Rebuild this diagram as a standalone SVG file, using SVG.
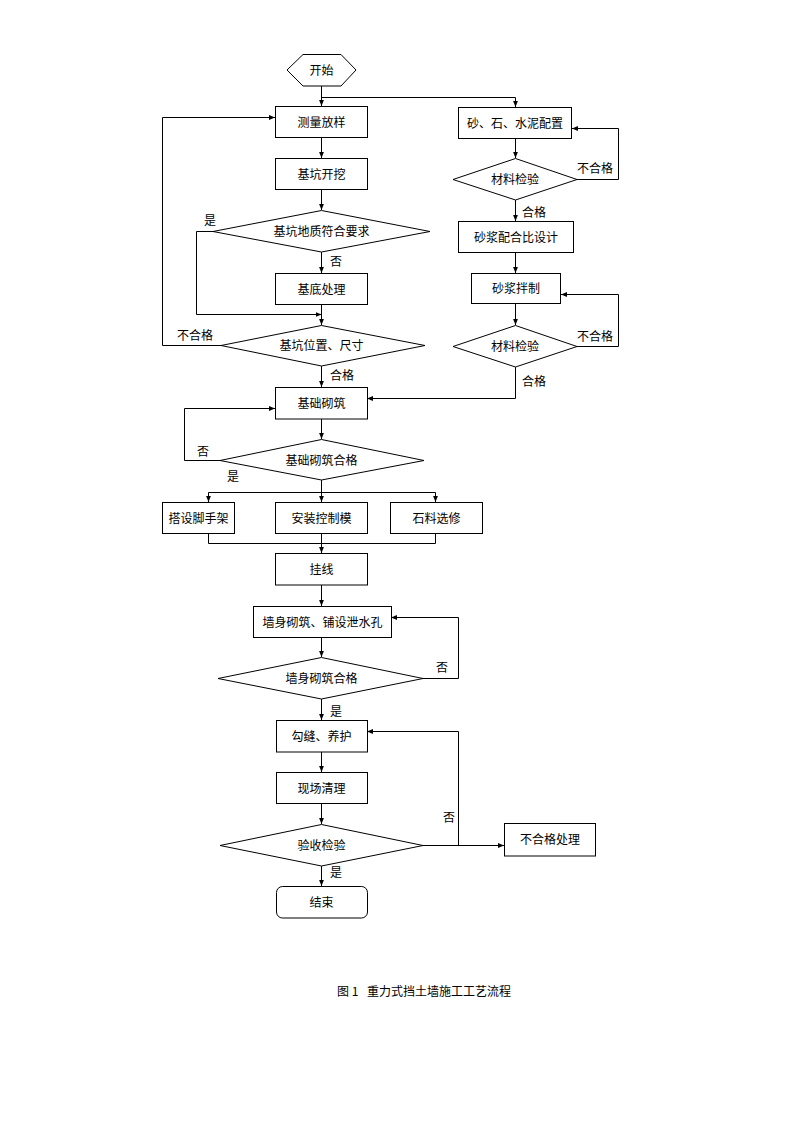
<svg xmlns="http://www.w3.org/2000/svg" width="794" height="1123" viewBox="0 0 794 1123">
<style>
.n{fill:#fff;stroke:#000;stroke-width:1}
.t{font-family:"Noto Sans CJK SC","Liberation Sans",sans-serif;font-size:12px;fill:#000;text-anchor:middle}
.l{font-family:"Noto Sans CJK SC","Liberation Sans",sans-serif;font-size:12px;fill:#000}
.c{fill:none;stroke:#000;stroke-width:1}
.a{marker-end:url(#ar)}
</style>
<defs>
<marker id="ar" viewBox="0 0 6 6" refX="6" refY="3" markerWidth="6" markerHeight="6" orient="auto" markerUnits="userSpaceOnUse">
<path d="M0,0.6 L6,3 L0,5.4 z" fill="#000"/>
</marker>
</defs>
<rect width="794" height="1123" fill="#fff"/>

<g id="connectors">
<path class="c a" d="M321.5,86 V106"/>
<path class="c a" d="M321.5,97.5 H515.5 V107"/>
<path class="c a" d="M321.5,137 V158"/>
<path class="c a" d="M321.5,189 V210"/>
<path class="c a" d="M321.5,252 V273"/>
<path class="c a" d="M213,231.5 H196.5 V314.5 H321.5"/>
<path class="c a" d="M321.5,304 V325"/>
<path class="c a" d="M221,345.5 H162.5 V117.5 H275"/>
<path class="c a" d="M321.5,366 V387"/>
<path class="c a" d="M515.5,367 V398.5 H367"/>
<path class="c a" d="M321.5,419 V439"/>
<path class="c a" d="M220,460.5 H184.5 V408.5 H275"/>
<path class="c a" d="M321.5,480 V502"/>
<path class="c" d="M208.5,492.5 H435.5"/>
<path class="c a" d="M208.5,492.5 V502"/>
<path class="c a" d="M435.5,492.5 V502"/>
<path class="c" d="M208.5,533 V543.5 H435.5 V533"/>
<path class="c a" d="M321.5,533 V553"/>
<path class="c a" d="M321.5,585 V606"/>
<path class="c a" d="M321.5,637 V657"/>
<path class="c a" d="M423,678.5 H458.5 V617.5 H391"/>
<path class="c a" d="M321.5,699 V720"/>
<path class="c a" d="M321.5,752 V772"/>
<path class="c a" d="M321.5,803 V824"/>
<path class="c a" d="M423,845.5 H504"/>
<path class="c a" d="M458.5,845.5 V731.5 H367"/>
<path class="c a" d="M321.5,866 V886"/>
<path class="c a" d="M515.5,138 V158"/>
<path class="c a" d="M577,179.5 H618.5 V128.5 H572"/>
<path class="c a" d="M515.5,200 V221"/>
<path class="c a" d="M515.5,252 V273"/>
<path class="c a" d="M515.5,303 V325"/>
<path class="c a" d="M577,346.5 H618.5 V294.5 H561"/>
<text class="l" x="204" y="225">是</text>
<text class="l" x="330" y="266">否</text>
<text class="l" x="177" y="340">不合格</text>
<text class="l" x="330" y="380">合格</text>
<text class="l" x="197" y="456">否</text>
<text class="l" x="227" y="481">是</text>
<text class="l" x="436" y="672">否</text>
<text class="l" x="330" y="716">是</text>
<text class="l" x="443" y="822">否</text>
<text class="l" x="330" y="877">是</text>
<text class="l" x="577" y="173">不合格</text>
<text class="l" x="522" y="217">合格</text>
<text class="l" x="577" y="341">不合格</text>
<text class="l" x="522" y="386">合格</text>
</g>

<g id="start"><polygon class="n" points="287,70 303,54.5 341,54.5 356,70 341,86 303,86"/><text class="t" x="321.5" y="74.5">开始</text></g>
<g id="celiang"><rect class="n" x="275.5" y="106.5" width="92" height="31"/><text class="t" x="321.5" y="126.5">测量放样</text></g>
<g id="kaiwa"><rect class="n" x="275.5" y="158.5" width="92" height="31"/><text class="t" x="321.5" y="178.5">基坑开挖</text></g>
<g id="dizhi"><polygon class="n" points="213,231.5 321.5,210.5 430,231.5 321.5,252"/><text class="t" x="321.5" y="235.5">基坑地质符合要求</text></g>
<g id="jidi"><rect class="n" x="275.5" y="273.5" width="92" height="31"/><text class="t" x="321.5" y="293.5">基底处理</text></g>
<g id="weizhi"><polygon class="n" points="221,345.5 321.5,325.5 425,345.5 321.5,366"/><text class="t" x="321.5" y="349.5">基坑位置、尺寸</text></g>
<g id="jichu"><rect class="n" x="275.5" y="387.5" width="92" height="31.5"/><text class="t" x="321.5" y="407.5">基础砌筑</text></g>
<g id="jichuhege"><polygon class="n" points="220,460.5 321.5,439.5 424,460.5 321.5,480"/><text class="t" x="321.5" y="464.5">基础砌筑合格</text></g>
<g id="jiaoshou"><rect class="n" x="162.5" y="502.5" width="72" height="31"/><text class="t" x="198.5" y="522.5" font-size="11.5">搭设脚手架</text></g>
<g id="kongzhi"><rect class="n" x="275.5" y="502.5" width="92" height="31"/><text class="t" x="321.5" y="522.5">安装控制模</text></g>
<g id="shiliao"><rect class="n" x="390.5" y="502.5" width="92" height="31"/><text class="t" x="436.5" y="522.5">石料选修</text></g>
<g id="guaxian"><rect class="n" x="275.5" y="553.5" width="92" height="31.5"/><text class="t" x="321.5" y="573.5">挂线</text></g>
<g id="qiangshen"><rect class="n" x="253.5" y="606.5" width="138" height="31"/><text class="t" x="322.5" y="626.5">墙身砌筑、铺设泄水孔</text></g>
<g id="qianghege"><polygon class="n" points="218,678.5 321.5,657.5 423,678.5 321.5,699"/><text class="t" x="321.5" y="682.5">墙身砌筑合格</text></g>
<g id="goufeng"><rect class="n" x="276.5" y="720.5" width="91" height="31.5"/><text class="t" x="321.5" y="740.5">勾缝、养护</text></g>
<g id="qingli"><rect class="n" x="276.5" y="772.5" width="91" height="31"/><text class="t" x="321.5" y="792.5">现场清理</text></g>
<g id="yanshou"><polygon class="n" points="220,845.5 321.5,824.5 423,845.5 321.5,866"/><text class="t" x="321.5" y="849.5">验收检验</text></g>
<g id="buhege"><rect class="n" x="504.5" y="823.5" width="91" height="32.5"/><text class="t" x="550" y="844">不合格处理</text></g>
<g id="end"><rect class="n" x="276.5" y="886.5" width="91" height="31.5" rx="6" ry="6"/><text class="t" x="321.5" y="906.5">结束</text></g>
<g id="peizhi"><rect class="n" x="458.5" y="107.5" width="113" height="31"/><text class="t" x="515" y="127.5">砂、石、水泥配置</text></g>
<g id="jianyan1"><polygon class="n" points="453,179.5 515.5,158.5 577,179.5 515.5,200"/><text class="t" x="515" y="183.5">材料检验</text></g>
<g id="peihebi"><rect class="n" x="458.5" y="221.5" width="115" height="31"/><text class="t" x="516" y="241.5">砂浆配合比设计</text></g>
<g id="banzhi"><rect class="n" x="471.5" y="273.5" width="89" height="30"/><text class="t" x="516" y="293">砂浆拌制</text></g>
<g id="jianyan2"><polygon class="n" points="453,346.5 515.5,325.5 577,346.5 515.5,367"/><text class="t" x="515" y="350.5">材料检验</text></g>

<text class="l" x="337" y="996" style="white-space:pre">图 1</text>
<text class="l" x="367" y="996">重力式挡土墙施工工艺流程</text>
</svg>
